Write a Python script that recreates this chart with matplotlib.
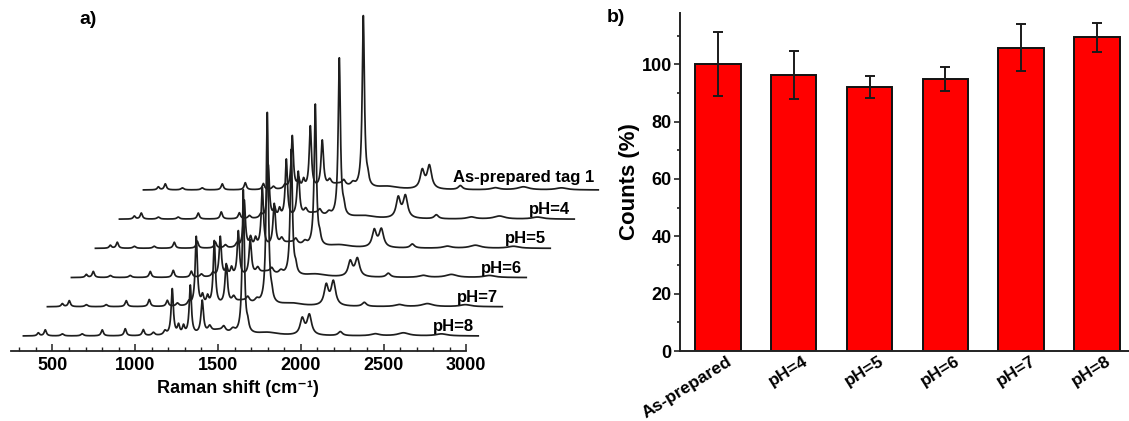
import numpy as np
import matplotlib
matplotlib.use("Agg")
import matplotlib.pyplot as plt
from matplotlib.ticker import MultipleLocator, FixedLocator
import matplotlib.transforms as mtransforms

plt.rcParams['font.family'] = ['Liberation Sans', 'DejaVu Sans']
plt.rcParams['font.weight'] = 'bold'
plt.rcParams['mathtext.default'] = 'bf'

# ---------------- Panel a data (Raman spectra) ----------------
spectra_labels = ["pH=8", "pH=7", "pH=6", "pH=5", "pH=4", "As-prepared tag 1"]
shift_start = 325.0     # cm-1, front trace
shift_end = 3072.0      # cm-1, front trace

major_peak_pos = [1224, 1333, 1405, 1653, 2009, 2052]
major_peak_hwhm = [8, 8, 9, 8, 15, 16]
major_heights_ph8 = [46, 49, 33, 144, 16, 20]
major_heights_ph7 = [69, 64, 40, 192, 20, 24]
major_heights_ph6 = [40, 45, 35, 126, 15, 18]
major_heights_ph5 = [47, 59, 42, 142, 17, 18]
major_heights_ph4 = [53, 58, 45, 159, 20, 22]
major_heights_asprep = [53, 62, 47, 172, 18, 23]

minor_peak_pos = [415, 457, 560, 680, 801, 940, 1049, 1110, 1180, 1262, 1292,
                  1450, 1500, 1535, 1590, 1680, 1800, 2239, 2450, 2620, 2850]
minor_peak_height = [3, 6, 2, 2, 6, 7, 6, 3, 4, 9, 8,
                     6, 5, 5, 4, 7, 3, 4, 2, 3, 2]
minor_peak_hwhm = [8, 8, 10, 10, 8, 8, 8, 10, 10, 8, 8,
                   12, 60, 12, 15, 8, 80, 15, 30, 40, 40]

# ---------------- Panel b data ----------------
categories = ["As-prepared", "pH=4", "pH=5", "pH=6", "pH=7", "pH=8"]
counts = [100.0, 96.4, 92.0, 95.0, 105.8, 109.4]
count_errors = [11.2, 8.4, 3.9, 4.2, 8.3, 5.1]

# ---------------- Figure ----------------
W, H = 1129, 421
fig = plt.figure(figsize=(W / 100, H / 100), dpi=100)

def px_rect(left, top, right, bottom):
    return [left / W, 1 - bottom / H, (right - left) / W, (bottom - top) / H]

# Panel a: 1 px = 6.04 cm-1 horizontally; y in px units
cm_per_px = 6.04
axa = fig.add_axes(px_rect(11, 0, 610, 351))
axa.set_xlim(250, 250 + (610 - 11) * cm_per_px)
axa.set_ylim(0, 351)
for s in ['top', 'right', 'left']:
    axa.spines[s].set_visible(False)
axa.spines['bottom'].set_bounds(250, 3000)
axa.spines['bottom'].set_linewidth(1.3)
axa.spines['bottom'].set_color('#222222')
axa.set_yticks([])
axa.xaxis.set_major_locator(FixedLocator([500, 1000, 1500, 2000, 2500, 3000]))
axa.xaxis.set_minor_locator(FixedLocator(np.arange(300, 3001, 100)))
axa.tick_params(axis='x', which='major', direction='in', length=5, width=1.1,
                labelsize=13, pad=4, color='#222222')
axa.tick_params(axis='x', which='minor', direction='in', length=2.8, width=1.0,
                color='#222222')
axa.set_xlabel("Raman shift (cm\u207b\u00b9)", fontsize=13, fontweight='bold')
axa.xaxis.set_label_coords((238 - 11) / (610 - 11), -0.082)

grid = np.arange(shift_start, shift_end + 0.5, 1.0)
heights_all = [major_heights_ph8, major_heights_ph7, major_heights_ph6,
               major_heights_ph5, major_heights_ph4, major_heights_asprep]
dx_step = 145.0
dy_step = 29.2
base0 = 15.0

def lor(x, x0, g, h):
    return h / (1 + ((x - x0) / g) ** 2)

for k, (lab, hts) in enumerate(zip(spectra_labels, heights_all)):
    y = np.zeros_like(grid)
    for p, g, h in zip(major_peak_pos, major_peak_hwhm, hts):
        y += lor(grid, p, g, h)
    for p, g, h in zip(minor_peak_pos, minor_peak_hwhm, minor_peak_height):
        y += lor(grid, p, g, h)
    xs = grid + k * dx_step
    ys = y + base0 + k * dy_step
    axa.plot(xs, ys, color='#1e1e1e', lw=1.25, clip_on=False)
    off = 8 if k == 5 else 5
    axa.text(shift_end + k * dx_step - 25, base0 + k * dy_step + off, lab,
             ha='right', va='baseline', fontsize=12, fontweight='bold')

fig.text(79 / W, 1 - 24 / H, "a)", fontsize=14, fontweight='bold', va='baseline')

# Panel b
unit = 75.8
axb = fig.add_axes(px_rect(680, 12.7, 680 + 6 * unit, 351))
xpos = np.arange(len(categories))
axb.bar(xpos, counts, width=0.6, color='#ff0000', edgecolor='#111111', linewidth=1.4,
        yerr=count_errors, capsize=3.5,
        error_kw=dict(elinewidth=1.4, capthick=1.4, ecolor='#1a1a1a'))
axb.set_xlim(-0.5, 5.5)
axb.set_ylim(0, 118)
for s in ['top', 'right']:
    axb.spines[s].set_visible(False)
axb.spines['left'].set_linewidth(1.4)
axb.spines['bottom'].set_linewidth(1.4)
axb.spines['left'].set_color('#222222')
axb.spines['bottom'].set_color('#222222')
axb.yaxis.set_major_locator(MultipleLocator(20))
axb.yaxis.set_minor_locator(MultipleLocator(10))
axb.set_yticks([0, 20, 40, 60, 80, 100])
axb.tick_params(axis='y', which='major', direction='out', length=4, width=1.2,
                labelsize=13, pad=2, color='#222222')
axb.tick_params(axis='y', which='minor', direction='out', length=2.5, width=1.2,
                color='#222222')
axb.set_xticks(xpos)
axb.set_xticklabels(categories, rotation=32, ha='right', va='top',
                    rotation_mode='anchor', fontsize=12.5, fontweight='bold')
axb.tick_params(axis='x', length=0, pad=2)
offset = mtransforms.ScaledTranslation(9 / 100, 0, fig.dpi_scale_trans)
for t in axb.get_xticklabels():
    t.set_transform(t.get_transform() + offset)
axb.set_ylabel("Counts (%)", fontsize=16, fontweight='bold', labelpad=1)

fig.text(607 / W, 1 - 22 / H, "b)", fontsize=14, fontweight='bold', va='baseline')

fig.savefig("out.png", dpi=100)
